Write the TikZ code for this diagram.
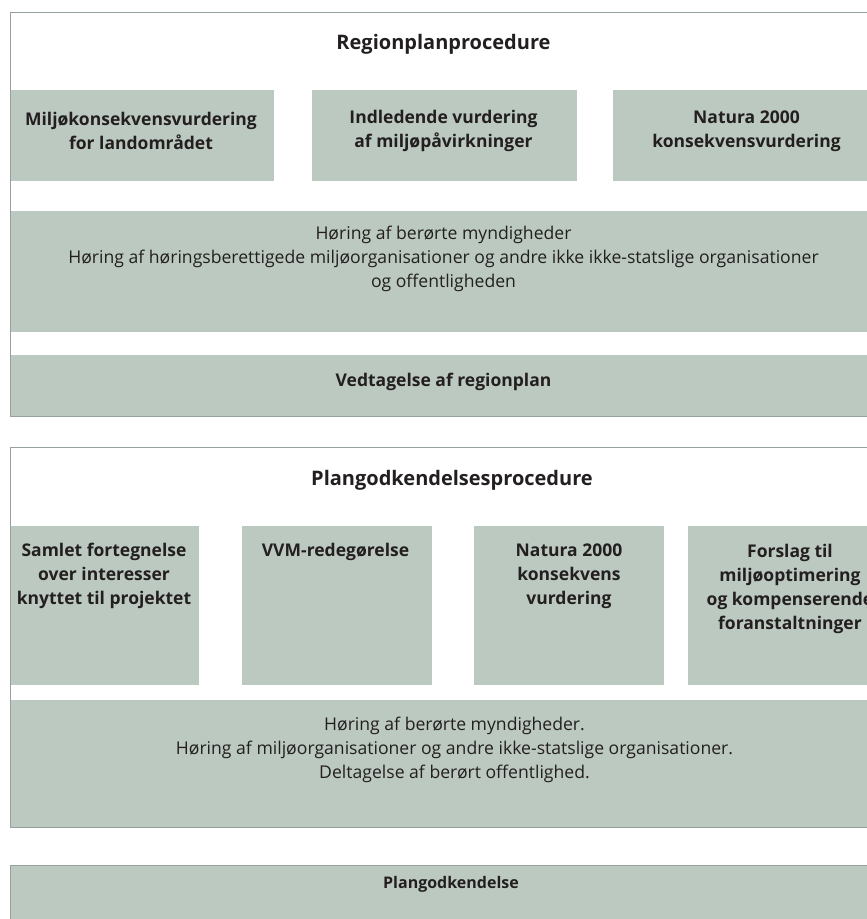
\documentclass[tikz,border=0pt]{standalone}
\usepackage{fontspec}
\setmainfont{Open Sans}
\definecolor{boxfill}{RGB}{188,201,192}
\definecolor{frameline}{RGB}{150,161,157}
\definecolor{ink}{RGB}{35,31,32}
\begin{document}
\begin{tikzpicture}[x=1pt,y=-1pt,
  panel/.style={fill=boxfill, draw=none, inner sep=0pt, outer sep=0pt},
  frameline/.style={draw=frameline, line width=1pt},
  boxtext/.style={text=ink, align=center, font=\fontsize{17.5}{24}\selectfont\bfseries, inner sep=0pt},
  bodytext/.style={text=ink, align=center, font=\fontsize{17.6}{24}\selectfont, inner sep=0pt},
  titletext/.style={text=ink, font=\fontsize{20}{24}\selectfont\bfseries, inner sep=0pt},
  smalltitle/.style={text=ink, font=\fontsize{16}{24}\selectfont\bfseries, inner sep=0pt}]
\useasboundingbox (0,0) rectangle (867,919);
\clip (0,0) rectangle (867,919);

% ---------- Regionplanprocedure ----------
\node[panel, minimum width=264pt, minimum height=91pt] (boxA) at (142,135.5) {};
\node[panel, minimum width=265pt, minimum height=91pt] (boxB) at (444.5,135.5) {};
\node[panel, minimum width=264pt, minimum height=91pt] (boxC) at (745,135.5) {};
\node[panel, minimum width=867pt, minimum height=121pt] (hear1) at (443.5,271.5) {};
\node[panel, minimum width=867pt, minimum height=61pt] (adopt) at (443.5,385.5) {};
\draw[frameline] (880,12) -- (10,12) -- (10,416) -- (880,416);

\node[titletext] (title1) at (443.5,44) {Regionplanprocedure};
\node[boxtext] (tA) at (141,131) {Miljøkonsekvensvurdering\\for landområdet};
\node[boxtext] (tB) at (443.5,131) {Indledende vurdering\\af miljøpåvirkninger};
\node[boxtext] (tC) at (746.5,131) {Natura 2000\\konsekvensvurdering};
\node[bodytext] (tH1) at (443.5,259) {Høring af berørte myndigheder\\Høring af høringsberettigede miljøorganisationer og andre ikke ikke-statslige organisationer\\og offentligheden};
\node[boxtext] (tV) at (443.5,382) {Vedtagelse af regionplan};

% ---------- Plangodkendelsesprocedure ----------
\node[panel, minimum width=189pt, minimum height=159pt] (boxD) at (104.5,605.5) {};
\node[panel, minimum width=190pt, minimum height=159pt] (boxE) at (337,605.5) {};
\node[panel, minimum width=190pt, minimum height=159pt] (boxF) at (569,605.5) {};
\node[panel, minimum width=232pt, minimum height=159pt] (boxG) at (804,605.5) {};
\node[panel, minimum width=890pt, minimum height=127pt] (hear2) at (455,763.5) {};
\draw[frameline] (910,447) -- (10,447) -- (10,827) -- (910,827);

\node[titletext] (title2) at (452,480) {Plangodkendelsesprocedure};
\node[boxtext] (tD) at (104,576) {Samlet fortegnelse\\over interesser\\knyttet til projektet};
\node[boxtext] (tE) at (335.5,552) {VVM-redegørelse};
\node[boxtext] (tF) at (569,576) {Natura 2000\\konsekvens\\vurdering};
\node[boxtext] (tG) at (790,589) {Forslag til\\miljøoptimering\\og kompenserende\\foranstaltninger};
\node[bodytext] (tH2) at (454.5,749.5) {Høring af berørte myndigheder.\\Høring af miljøorganisationer og andre ikke-statslige organisationer.\\Deltagelse af berørt offentlighed.};

% ---------- Plangodkendelse ----------
\node[panel, minimum width=900pt, minimum height=70pt] (final) at (460,900) {};
\draw[frameline] (10,935) -- (10,865) -- (910,865);
\node[smalltitle] (tP) at (451,884) {Plangodkendelse};
\end{tikzpicture}
\end{document}
